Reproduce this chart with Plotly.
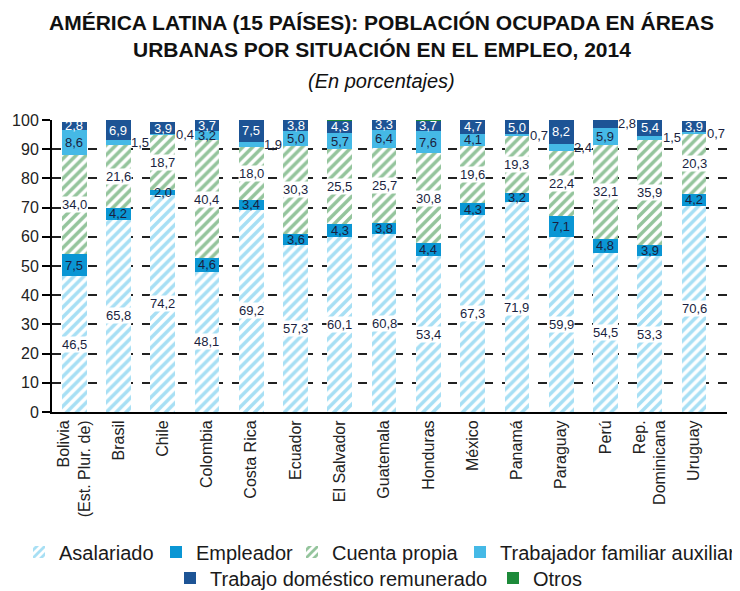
import plotly.graph_objects as go

countries = ["Bolivia<br>(Est. Plur. de)", "Brasil", "Chile", "Colombia", "Costa Rica", "Ecuador",
             "El Salvador", "Guatemala", "Honduras", "México", "Panamá", "Paraguay", "Perú",
             "Rep.<br>Dominicana", "Uruguay"]

asalariado = [46.5, 65.8, 74.2, 48.1, 69.2, 57.3, 60.1, 60.8, 53.4, 67.3, 71.9, 59.9, 54.5, 53.3, 70.6]
empleador = [7.5, 4.2, 2.0, 4.6, 3.4, 3.6, 4.3, 3.8, 4.4, 4.3, 3.2, 7.1, 4.8, 3.9, 4.2]
cuenta_propia = [34.0, 21.6, 18.7, 40.4, 18.0, 30.3, 25.5, 25.7, 30.8, 19.6, 19.3, 22.4, 32.1, 35.9, 20.3]
familiar = [8.6, 1.5, 0.4, 3.2, 1.9, 5.0, 5.7, 6.4, 7.6, 4.1, 0.7, 2.4, 5.9, 1.5, 0.7]
domestico = [2.8, 6.9, 3.9, 3.7, 7.5, 3.8, 4.3, 3.3, 3.7, 4.7, 5.0, 8.2, 2.8, 5.4, 3.9]
otros = [0.0, 0.0, 0.0, 0.2, 0.0, 0.0, 0.2, 0.0, 0.2, 0.0, 0.0, 0.3, 0.0, 0.0, 0.0]

y_ticks = list(range(0, 101, 10))

series = [
    ("Asalariado", asalariado, "#4fc0ea", "/", True),
    ("Empleador", empleador, "#0a96d4", "", True),
    ("Cuenta propia", cuenta_propia, "#2a8a3a", "/", True),
    ("Trabajador familiar auxiliar", familiar, "#45b9e6", "", True),
    ("Trabajo doméstico remunerado", domestico, "#1d5495", "", True),
    ("Otros", otros, "#1d8a3a", "", False),
]

# labels drawn outside (to the right of) the bar
outside = {("Trabajador familiar auxiliar", i) for i, v in enumerate(familiar) if v < 2.5}
outside.add(("Trabajo doméstico remunerado", 12))

# page offset of the figure (browser default body margin)
OFF = 8
W, H = 740 - OFF, 591 - OFF
ML, MR, MT, MB = 44, 13, 112, 179
plot_w = W - ML - MR
plot_h = H - MT - MB

# legend entry placement: (text start x, row centre y) in page pixels
legend_pos = [(59, 552), (196, 552), (332, 552), (500, 552), (210, 578), (533, 578)]
legend_ids = ["legend", "legend2", "legend3", "legend4", "legend5", "legend6"]

fig = go.Figure()
for k, (name, vals, color, shape, _) in enumerate(series):
    marker = dict(color="white" if shape else color, line=dict(width=0))
    if shape:
        marker["pattern"] = dict(shape=shape, fgcolor=color, bgcolor="white", size=7, solidity=0.5)
    fig.add_trace(go.Bar(
        x=countries, y=vals, name=name, marker=marker, width=0.56,
        legend=legend_ids[k], hoverinfo="skip",
    ))

annotations = []
base = [0.0] * len(countries)
for name, vals, color, shape, labelled in series:
    for i, v in enumerate(vals):
        if labelled and v > 0:
            txt = f"{v:.1f}".replace(".", ",")
            fcol = "white" if name == "Trabajo doméstico remunerado" else "#1a1f3f"
            if (name, i) in outside:
                annotations.append(dict(x=countries[i], y=base[i] + v / 2, xref="x", yref="y",
                                        text=txt, showarrow=False, xanchor="left", xshift=11,
                                        font=dict(size=13, color="#1a1f3f", family="Liberation Sans")))
            else:
                a = dict(x=countries[i], y=base[i] + v / 2, xref="x", yref="y", text=txt,
                         showarrow=False, font=dict(size=13, color=fcol, family="Liberation Sans"),
                         borderpad=0)
                if shape:
                    a["bgcolor"] = "white"
                annotations.append(a)
        base[i] += v

titles = [
    ("<b>AMÉRICA LATINA (15 PAÍSES): POBLACIÓN OCUPADA EN ÁREAS</b>", 23, 21),
    ("<b>URBANAS POR SITUACIÓN EN EL EMPLEO, 2014</b>", 50, 21),
    ("<i>(En porcentajes)</i>", 81, 20),
]
for text, ypix, size in titles:
    fy = ypix - OFF
    annotations.append(dict(x=(381.5 - OFF - ML) / plot_w, y=(H - fy - MB) / plot_h,
                            xref="paper", yref="paper",
                            text=text, showarrow=False, xanchor="center", yanchor="middle",
                            font=dict(size=size, color="#111111", family="Liberation Sans")))

legends = {}
for lid, (tx, ty) in zip(legend_ids, legend_pos):
    legends[lid] = dict(orientation="h", x=(tx - OFF - 40) / W, xanchor="left", xref="container",
                        y=1 - (ty - OFF) / H, yanchor="middle", yref="container",
                        font=dict(size=20, color="#1a1a1a"), itemwidth=30,
                        bgcolor="rgba(0,0,0,0)", borderwidth=0)

fig.update_layout(
    width=W, height=H,
    barmode="stack",
    paper_bgcolor="white", plot_bgcolor="white",
    margin=dict(l=ML, r=MR, t=MT, b=MB, autoexpand=False),
    font=dict(family="Liberation Sans", size=15, color="#1a1a1a"),
    showlegend=True,
    annotations=annotations,
    **legends,
)

fig.update_yaxes(range=[0, 100], tickvals=y_ticks, ticks="outside", ticklen=8, tickcolor="black",
                 tickwidth=1.5, showline=True, linecolor="black", linewidth=2,
                 showgrid=True, gridcolor="#222222", griddash="dash", gridwidth=1.5,
                 tickfont=dict(size=16, color="#222222"), zeroline=False, automargin=False)
fig.update_xaxes(tickangle=-90, showline=True, linecolor="black", linewidth=2,
                 tickfont=dict(size=16, color="#222222"), ticks="", automargin=False)

fig.write_html("out.html")
